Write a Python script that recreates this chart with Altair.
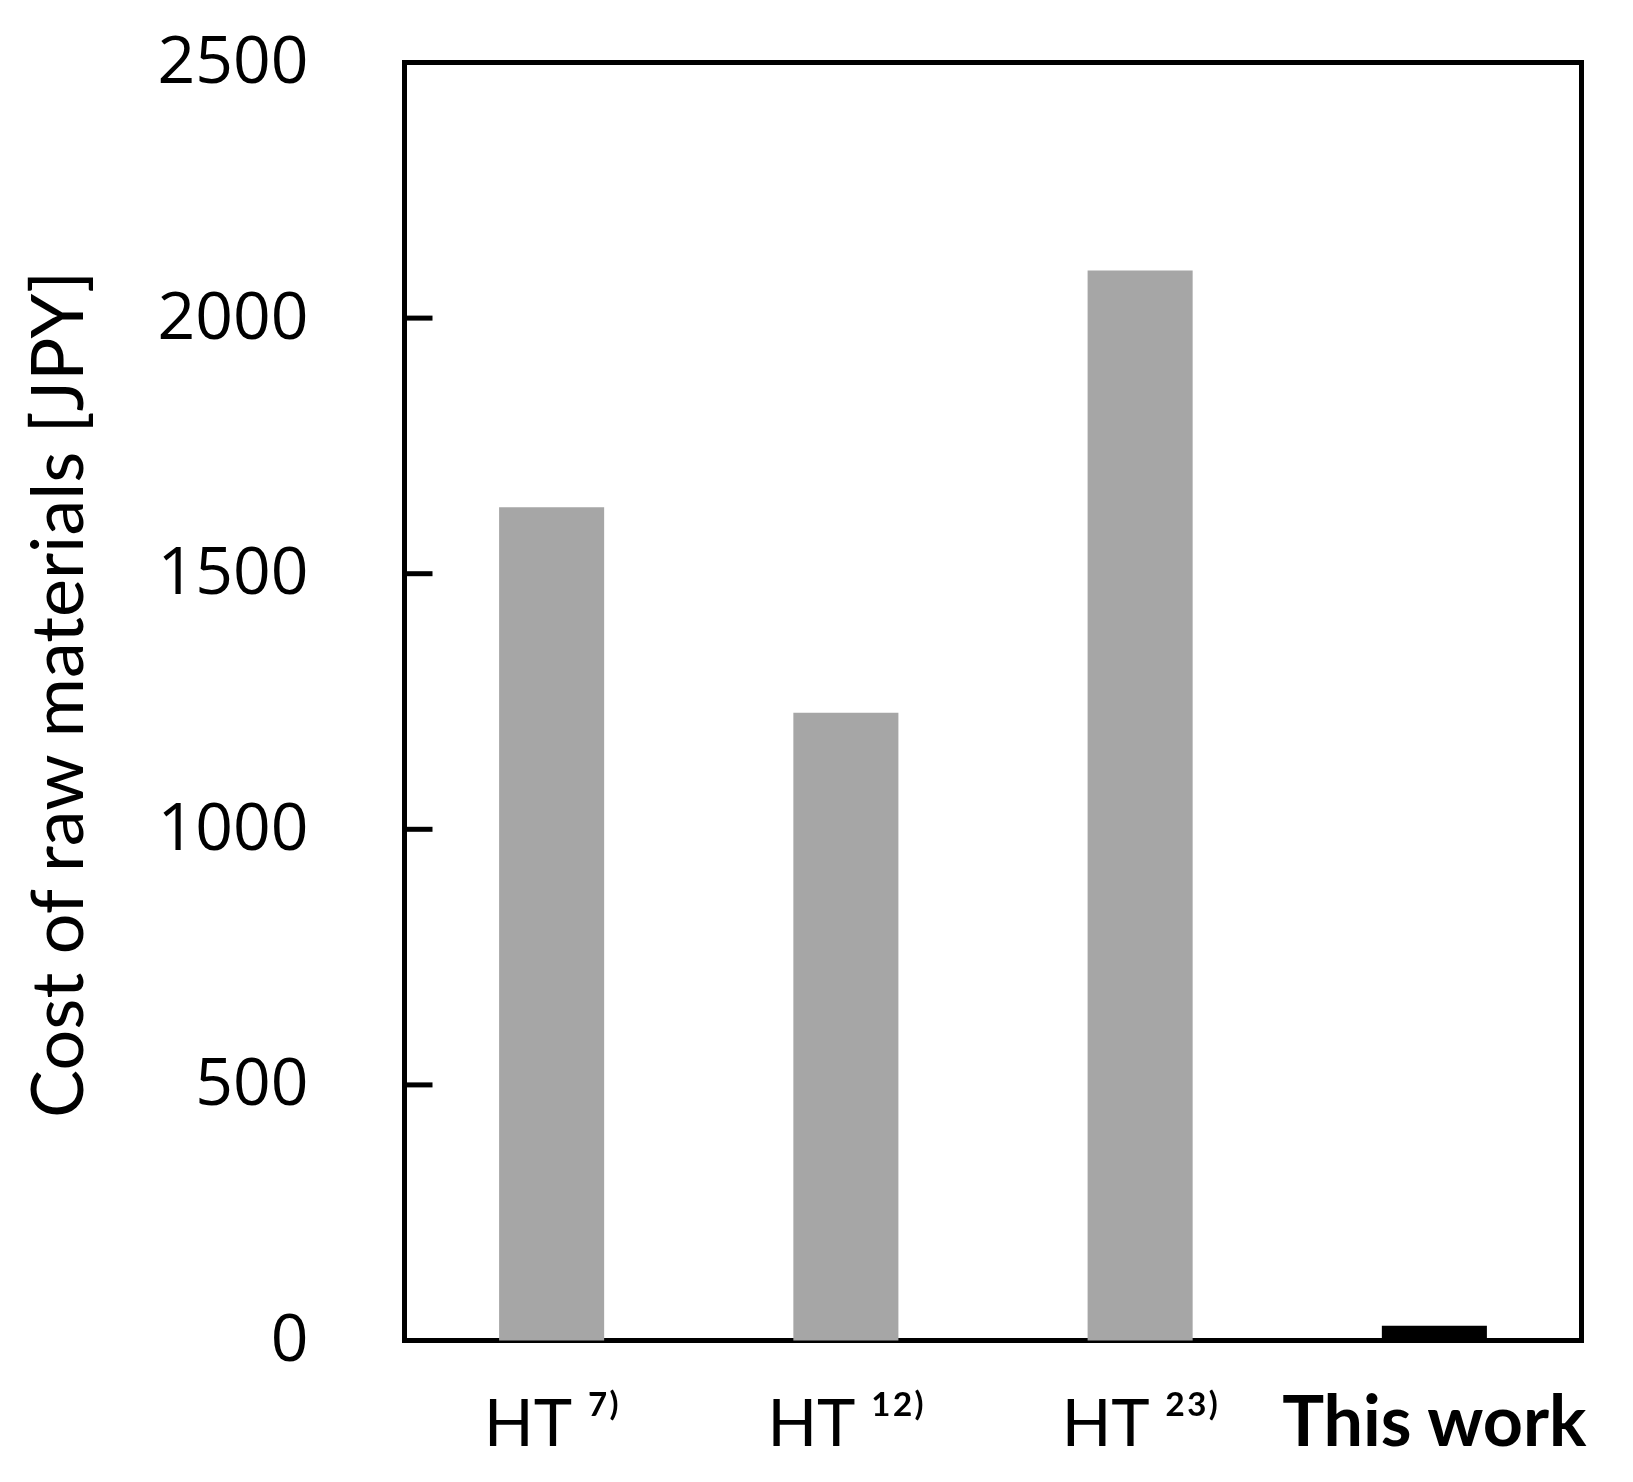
import altair as alt
import pandas as pd

categories = ["HT ⁷⁾", "HT ¹²⁾", "HT ²³⁾", "This work"]
costs = [1630, 1228, 2093, 29]
bar_colors = ["#a6a6a6", "#a6a6a6", "#a6a6a6", "#000000"]
y_ticks = [0, 500, 1000, 1500, 2000, 2500]

df = pd.DataFrame({"label": categories, "cost": costs})
ticks_df = pd.DataFrame({"t": y_ticks})

label_font = "Lato"
y_title = "Cost of raw materials [JPY]"

y_axis = alt.Axis(
    title=y_title,
    values=y_ticks,
    format="d",
    domain=False,
    ticks=False,
    tickSize=0,
    grid=False,
    labelPadding=96.5,
    labelFont="Open Sans",
    labelFontSize=66,
    labelColor="black",
    labelBaseline="middle",
    titleFont=label_font,
    titleFontSize=72,
    titleFontWeight="normal",
    titleColor="black",
    titleAngle=270,
    titleBaseline="alphabetic",
    titleAlign="center",
    titleX=-322.5,
    titleY=631.5,
)
y_scale = alt.Scale(domain=[0, 2500], nice=False, zero=True)

bars = alt.Chart(df).mark_bar().encode(
    x=alt.X(
        "label:N",
        sort=None,
        scale=alt.Scale(paddingInner=0.643, paddingOuter=0.3215),
        axis=alt.Axis(
            title=None,
            domain=False,
            ticks=False,
            tickSize=0,
            labelAngle=0,
            labelPadding=104.5,
            labelBaseline="alphabetic",
            labelLimit=1000,
            labelFont=label_font,
            labelFontSize=alt.expr("datum.value == 'This work' ? 70 : 65"),
            labelFontWeight=alt.expr("datum.value == 'This work' ? 'bold' : 'normal'"),
            labelColor="black",
        ),
    ),
    y=alt.Y("cost:Q", scale=y_scale, axis=y_axis, title=y_title),
    color=alt.Color(
        "label:N",
        scale=alt.Scale(domain=categories, range=bar_colors),
        legend=None,
    ),
)

tick_marks = alt.Chart(ticks_df).mark_rule(color="black", strokeWidth=5, strokeCap="butt").encode(
    y=alt.Y("t:Q", scale=y_scale, axis=y_axis, title=y_title),
    x=alt.value(0),
    x2=alt.value(28),
)

chart = (
    alt.layer(bars, tick_marks)
    .properties(
        width=1177,
        height=1278,
        autosize=alt.AutoSizeParams(type="none"),
        padding={"left": 396.5, "top": 54.5, "right": 40, "bottom": 120},
    )
    .configure(background="white", view=alt.ViewConfig(stroke="black", strokeWidth=5))
)

chart.save("out.html", embed_options={"renderer": "svg", "actions": False})
